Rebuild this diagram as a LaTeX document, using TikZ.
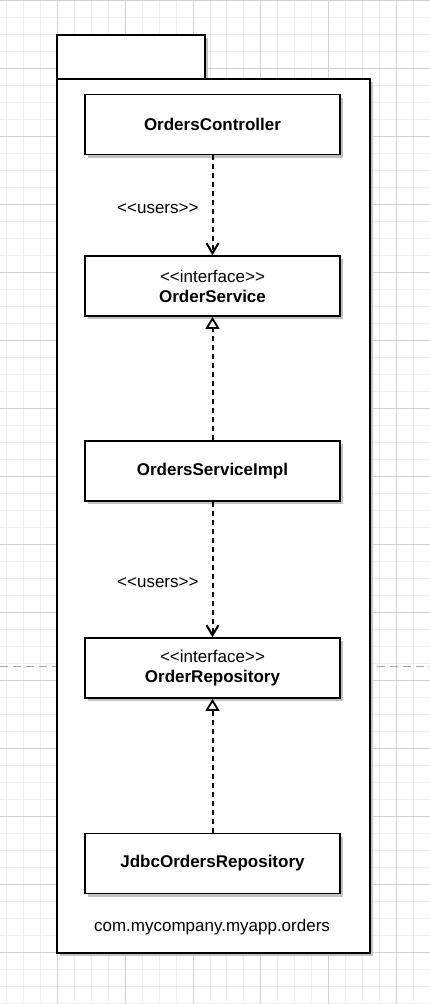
\documentclass[tikz,border=0pt]{standalone}
\usepackage{fontspec}
\setmainfont{Liberation Sans}
\usetikzlibrary{arrows.meta}
\usetikzlibrary{shadows}

\begin{document}
\begin{tikzpicture}[x=1pt,y=-1pt,
        minorgrid/.style={black!7,line width=0.8pt},
        majorgrid/.style={black!18,line width=0.8pt},
        boxshadow/.style={drop shadow={shadow xshift=3pt,shadow yshift=-3pt,fill=black!24,opacity=1}},
        pkg/.style={draw,fill=white,line width=1.8pt,boxshadow},
        umlclass/.style={pkg,minimum width=255pt,minimum height=60pt,inner sep=0pt,align=center,font=\fontsize{17}{20}\selectfont},
        stereo/.style={font=\fontsize{17}{20}\selectfont,inner sep=0pt},
        dep/.style={line width=2pt,dash pattern=on 5pt off 4pt,-{Straight Barb[length=10pt,width=12pt]}},
        realize/.style={line width=2pt,dash pattern=on 5pt off 4pt,-{Triangle[length=12pt,width=14pt,fill=white,line width=1.8pt]}}]
        \useasboundingbox (0,0) rectangle (430,1004);
        \foreach \i in {0,...,25}
            \draw[minorgrid] ({6.5+16.95*\i},0) -- ++(0,1004);
        \foreach \j in {0,...,59}
            \draw[minorgrid] (0,{17*\j}) -- ++(430,0);
        \foreach \i in {3,7,...,23}
            \draw[majorgrid] ({6.5+16.95*\i},0) -- ++(0,1004);
        \foreach \j in {0,4,...,56}
            \draw[majorgrid] (0,{17*\j}) -- ++(430,0);
        \draw[black!35,line width=1pt,dash pattern=on 8pt off 5pt] (0,666.5) -- (430,666.5);

        \draw[pkg] (57,35) rectangle (205,79);
        \draw[pkg] (57,79) rectangle (370,953);
        \node[stereo] (pkgname) at (212,927) {com.mycompany.myapp.orders};

        \node[umlclass] (ctrl) at (212.5,124.5) {\textbf{OrdersController}};
        \node[umlclass] (svc) at (212.5,286) {<{}<interface>{}>\\\textbf{OrderService}};
        \node[umlclass] (impl) at (212.5,471) {\textbf{OrdersServiceImpl}};
        \node[umlclass] (repo) at (212.5,668) {<{}<interface>{}>\\\textbf{OrderRepository}};
        \node[umlclass] (jdbc) at (212.5,863.5) {\textbf{JdbcOrdersRepository}};

        \draw[dep] (ctrl) -- node[stereo,pos=.53,left=13pt] (usesA) {<{}<users>{}>} (svc);
        \draw[realize] (impl) -- (svc);
        \draw[dep] (impl) -- node[stereo,pos=.6,left=13pt] (usesB) {<{}<users>{}>} (repo);
        \draw[realize] (jdbc) -- (repo);
    \end{tikzpicture}
\end{document}
